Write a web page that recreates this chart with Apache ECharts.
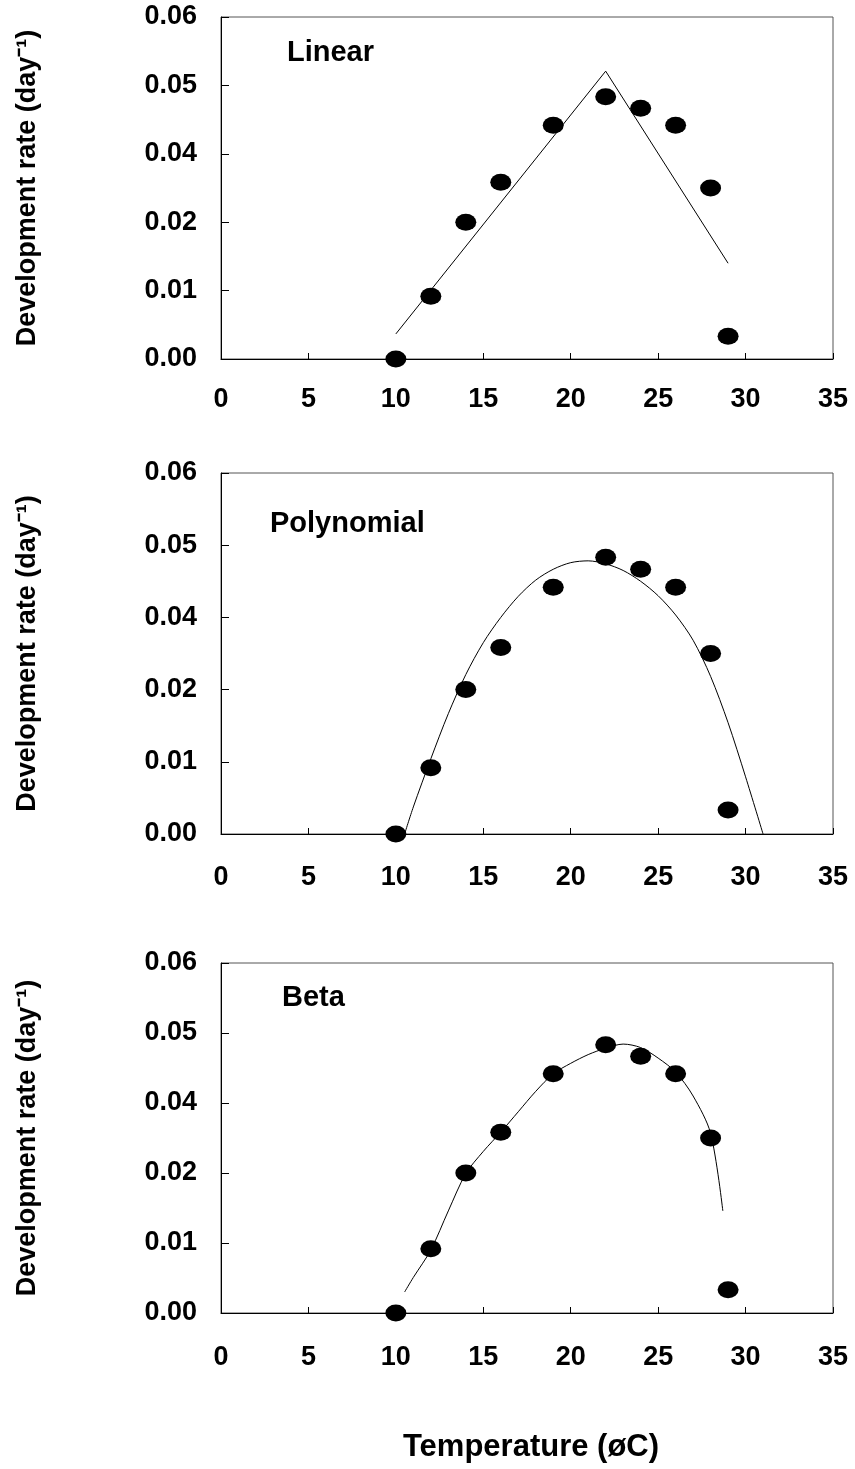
<!DOCTYPE html>
<html>
<head>
<meta charset="utf-8">
<script src="https://cdn.jsdelivr.net/npm/echarts@6/dist/echarts.min.js"></script>
<style>
  html, body { margin: 0; padding: 0; background: #fff; }
  #graph { width: 855px; height: 1469px; }
</style>
</head>
<body>
<div id="graph"></div>
<script>
// observed data (same in all three panels)
var temps = [10, 12, 14, 16, 19, 22, 24, 26, 28, 29];
var rates = [0, 0.011, 0.024, 0.031, 0.041, 0.046, 0.044, 0.041, 0.030, 0.004];

// fitted curves
var linearX = [10, 22, 29];
var linearY = [0.0044, 0.0505, 0.0168];

var polyX = [10.5, 11, 12, 13, 14, 15, 16, 17, 18, 19, 20, 21, 22, 23, 24, 25, 26, 27, 28, 29, 30, 31];
var polyY = [0, 0.0045, 0.0125, 0.0200, 0.0265, 0.0318, 0.0360, 0.0395, 0.0422, 0.0440, 0.0451, 0.0454,
             0.0449, 0.0438, 0.0420, 0.0396, 0.0364, 0.0322, 0.0262, 0.0185, 0.0095, 0];

var betaX = [10.5, 11, 12, 13, 14, 15, 16, 17, 18, 19, 20, 21, 22, 23, 24, 25, 26, 27, 28, 28.7];
var betaY = [0.0036, 0.0061, 0.0108, 0.0175, 0.0239, 0.0277, 0.0310, 0.0345, 0.0380, 0.0410, 0.0428,
             0.0443, 0.0454, 0.0461, 0.0455, 0.0437, 0.0413, 0.0372, 0.0308, 0.0175];

// tick labels
var xTickLabels = ['0', '5', '10', '15', '20', '25', '30', '35'];
var yTickLabels = ['0.00', '0.01', '0.02', '0.04', '0.05', '0.06'];

var panelNames = ['Linear', 'Polynomial', 'Beta'];
var fitX = [linearX, polyX, betaX];
var fitY = [linearY, polyY, betaY];

// panel layout
var grids = [
  { left: 221, top: 17, width: 612, height: 342 },
  { left: 221, top: 473, width: 612, height: 361 },
  { left: 221, top: 963, width: 612, height: 350 }
];
var xLabelMargin = [27, 30, 31];
var nameTop = [38, 509, 983];
var nameLeft = [287, 270, 282];

function pairs(xs, ys) {
  return xs.map(function (x, i) { return [x, ys[i]]; });
}

var font = 'Liberation Sans, Arial, sans-serif';
var xAxes = [], yAxes = [], series = [], titles = [];

for (var i = 0; i < 3; i++) {
  xAxes.push({
    gridIndex: i,
    type: 'value',
    min: 0, max: 35, interval: 5,
    axisLine: { lineStyle: { color: '#000', width: 1 } },
    axisTick: { inside: true, length: 6, lineStyle: { color: '#000' } },
    splitLine: { show: false },
    axisLabel: {
      margin: xLabelMargin[i],
      fontSize: 27, fontWeight: 'bold', color: '#000', fontFamily: font,
      formatter: function (v) { return xTickLabels[Math.round(v / 5)]; }
    }
  });
  yAxes.push({
    gridIndex: i,
    type: 'value',
    min: 0, max: 0.06, interval: 0.012,
    name: 'Development rate (day\u207B\u00B9)',
    nameLocation: 'middle',
    nameGap: 180,
    nameTextStyle: { fontSize: 27, fontWeight: 'bold', color: '#000', fontFamily: font },
    axisLine: { lineStyle: { color: '#000', width: 1 } },
    axisTick: { inside: true, length: 8, lineStyle: { color: '#000' } },
    splitLine: { show: false },
    axisLabel: {
      margin: 24,
      fontSize: 27, fontWeight: 'bold', color: '#000', fontFamily: font,
      formatter: function (v) { return yTickLabels[Math.round(v / 0.012)]; }
    }
  });
  titles.push({
    text: panelNames[i],
    left: nameLeft[i], top: nameTop[i], padding: 0,
    textStyle: { fontSize: 29, fontWeight: 'bold', color: '#000', fontFamily: font }
  });
  series.push({
    type: 'line',
    xAxisIndex: i, yAxisIndex: i,
    data: pairs(fitX[i], fitY[i]),
    smooth: i === 0 ? false : 0.3,
    showSymbol: false,
    lineStyle: { color: '#000', width: 1 },
    silent: true, z: 2
  });
  series.push({
    type: 'scatter',
    xAxisIndex: i, yAxisIndex: i,
    data: pairs(temps, rates),
    symbol: 'circle',
    symbolSize: [21, 17],
    itemStyle: { color: '#000', opacity: 1 },
    z: 3
  });
}

var myChart = echarts.init(document.getElementById('graph'));
var option = {
  animation: false,
  backgroundColor: '#fff',
  title: titles,
  grid: grids.map(function (g) {
    return { left: g.left, top: g.top, width: g.width, height: g.height,
             show: true, borderColor: '#555', borderWidth: 1, containLabel: false };
  }),
  xAxis: xAxes,
  yAxis: yAxes,
  series: series,
  graphic: [{
    type: 'text',
    x: 531, y: 1447,
    style: { text: 'Temperature (\u00F8C)', fontSize: 31, fontWeight: 'bold', fill: '#000',
             fontFamily: font, align: 'center', verticalAlign: 'middle' }
  }]
};
myChart.setOption(option);
</script>
</body>
</html>
